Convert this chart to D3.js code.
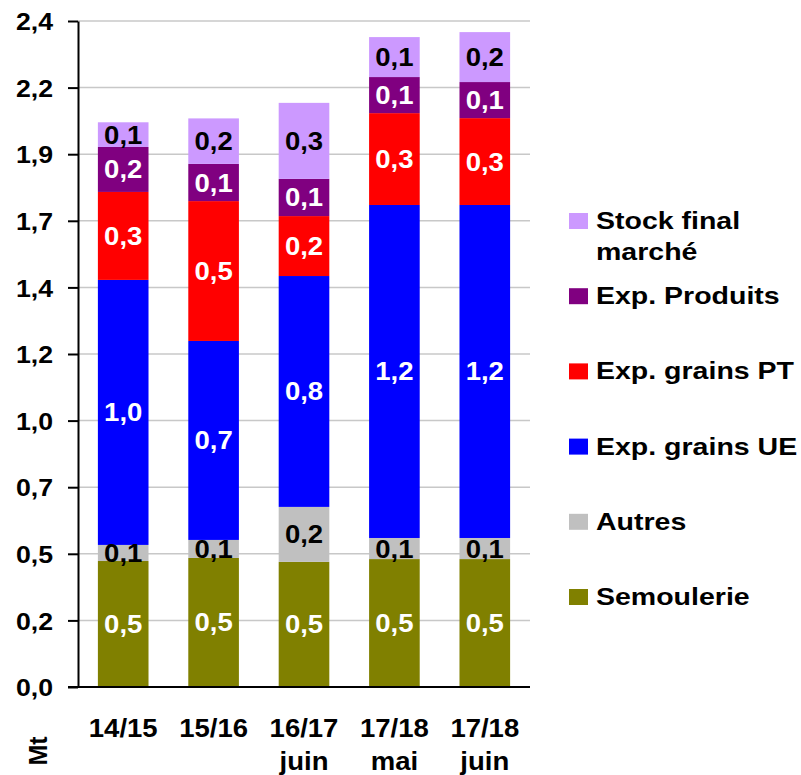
<!DOCTYPE html>
<html>
<head>
<meta charset="utf-8">
<script src="https://cdn.jsdelivr.net/npm/d3@7"></script>
<style>
  html, body { margin: 0; padding: 0; background: #fff; }
  svg { display: block; font-family: "Liberation Sans", Arial, sans-serif; font-weight: bold; }
</style>
</head>
<body>
<svg id="chart" width="801" height="775"></svg>
<script>
// ---- data ----
const catLine1 = ["14/15", "15/16", "16/17", "17/18", "17/18"];
const catLine2 = ["", "", "juin", "mai", "juin"];

const semoulerie  = [0.454, 0.465, 0.451, 0.461, 0.461];
const autres      = [0.058, 0.065, 0.198, 0.076, 0.076];
const expGrainsUE = [0.955, 0.717, 0.832, 1.200, 1.200];
const expGrainsPT = [0.317, 0.504, 0.216, 0.331, 0.313];
const expProduits = [0.162, 0.134, 0.134, 0.130, 0.130];
const stockFinal  = [0.089, 0.164, 0.274, 0.144, 0.180];

const seriesNames = ["Semoulerie", "Autres", "Exp. grains UE", "Exp. grains PT", "Exp. Produits", "Stock final marché"];
const seriesValues = [semoulerie, autres, expGrainsUE, expGrainsPT, expProduits, stockFinal];
const seriesColors = ["#808000", "#c0c0c0", "#0000ff", "#ff0000", "#800080", "#cc99ff"];
const labelColors  = ["#ffffff", "#000000", "#ffffff", "#ffffff", "#ffffff", "#000000"];

const yTickValues = [0, 0.24, 0.48, 0.72, 0.96, 1.2, 1.44, 1.68, 1.92, 2.16, 2.4];
const yTickLabels = ["0,0", "0,2", "0,5", "0,7", "1,0", "1,2", "1,4", "1,7", "1,9", "2,2", "2,4"];
const unitLabel = "Mt";

// ---- build ----
const svg = d3.select("#chart");
const plotLeft = 78, plotRight = 530, plotTop = 21, plotBottom = 687;

const x = d3.scaleBand().domain(d3.range(catLine1.length))
  .range([plotLeft, plotRight]).paddingInner(0.44).paddingOuter(0.22);
const y = d3.scaleLinear().domain([0, 2.4]).range([plotBottom, plotTop]);

const table = catLine1.map((c, i) => {
  const row = { i };
  seriesNames.forEach((n, k) => row[n] = seriesValues[k][i]);
  return row;
});
const stacked = d3.stack().keys(seriesNames)(table);
const fmt = v => d3.format(".1f")(v).replace(".", ",");

// gridlines
svg.append("g").selectAll("line").data(yTickValues.slice(1)).join("line")
  .attr("x1", plotLeft).attr("x2", plotRight)
  .attr("y1", d => y(d)).attr("y2", d => y(d))
  .attr("stroke", "#c8c8c8").attr("stroke-width", 1.5);

// bars
const layers = svg.append("g").selectAll("g").data(stacked).join("g")
  .attr("fill", (d, k) => seriesColors[k]);
layers.selectAll("rect").data(d => d).join("rect")
  .attr("x", d => x(d.data.i))
  .attr("width", x.bandwidth())
  .attr("y", d => y(d[1]))
  .attr("height", d => y(d[0]) - y(d[1]));

// data labels
const lbl = svg.append("g").selectAll("g").data(stacked).join("g")
  .attr("fill", (d, k) => labelColors[k]);
lbl.selectAll("text").data(d => d).join("text")
  .attr("transform", d => `translate(${x(d.data.i) + x.bandwidth() / 2},${(y(d[0]) + y(d[1])) / 2}) scale(1.1,1)`)
  .attr("text-anchor", "middle")
  .attr("dy", "0.36em")
  .attr("font-size", 25)
  .text(d => fmt(d[1] - d[0]));

// y axis
const yAxis = d3.axisLeft(y).tickValues(yTickValues)
  .tickFormat((d, i) => yTickLabels[i]).tickSize(10).tickSizeOuter(0);
const gy = svg.append("g").attr("transform", `translate(${plotLeft},0)`).call(yAxis);
gy.select(".domain").attr("stroke", "#000").attr("stroke-width", 2);
gy.selectAll(".tick line").attr("stroke", "#000").attr("stroke-width", 2);
gy.selectAll(".tick text")
  .attr("x", 0).attr("dy", "0.38em")
  .attr("transform", "translate(-25,0) scale(1.16,1)")
  .attr("font-size", 23).attr("font-weight", "bold")
  .attr("font-family", "Liberation Sans, Arial, sans-serif").attr("fill", "#000");

// x axis line
svg.append("line").attr("x1", plotLeft - 10).attr("x2", plotRight)
  .attr("y1", y(0)).attr("y2", y(0)).attr("stroke", "#000").attr("stroke-width", 2);

// x labels
const xl = svg.append("g").selectAll("g").data(catLine1).join("g");
xl.append("text")
  .attr("transform", (d, i) => `translate(${x(i) + x.bandwidth() / 2},736.5) scale(1.1,1)`)
  .attr("text-anchor", "middle").attr("font-size", 25).text(d => d);
xl.append("text")
  .attr("transform", (d, i) => `translate(${x(i) + x.bandwidth() / 2},770) scale(1.1,1)`)
  .attr("text-anchor", "middle").attr("font-size", 25).text((d, i) => catLine2[i]);

// unit label
svg.append("text").attr("transform", "translate(46.5,751) rotate(-90)")
  .attr("text-anchor", "middle").attr("font-size", 25).text(unitLabel);

// legend
const legendOrder = d3.range(seriesNames.length).reverse();
const ly = d3.scalePoint().domain(legendOrder).range([221, 597]);
const lg = svg.append("g").selectAll("g").data(legendOrder).join("g");
lg.append("rect").attr("x", 569).attr("width", 19).attr("height", 16)
  .attr("y", k => ly(k) - 8).attr("fill", k => seriesColors[k]);
lg.each(function (k) {
  const g = d3.select(this);
  const name = seriesNames[k];
  const lines = name === "Stock final marché" ? ["Stock final", "marché"] : [name];
  lines.forEach((t, j) => {
    g.append("text")
      .attr("transform", `translate(596,${ly(k) + 8 + j * 31}) scale(1.24,1)`)
      .attr("font-size", 23).attr("fill", "#000").text(t);
  });
});
</script>
</body>
</html>
